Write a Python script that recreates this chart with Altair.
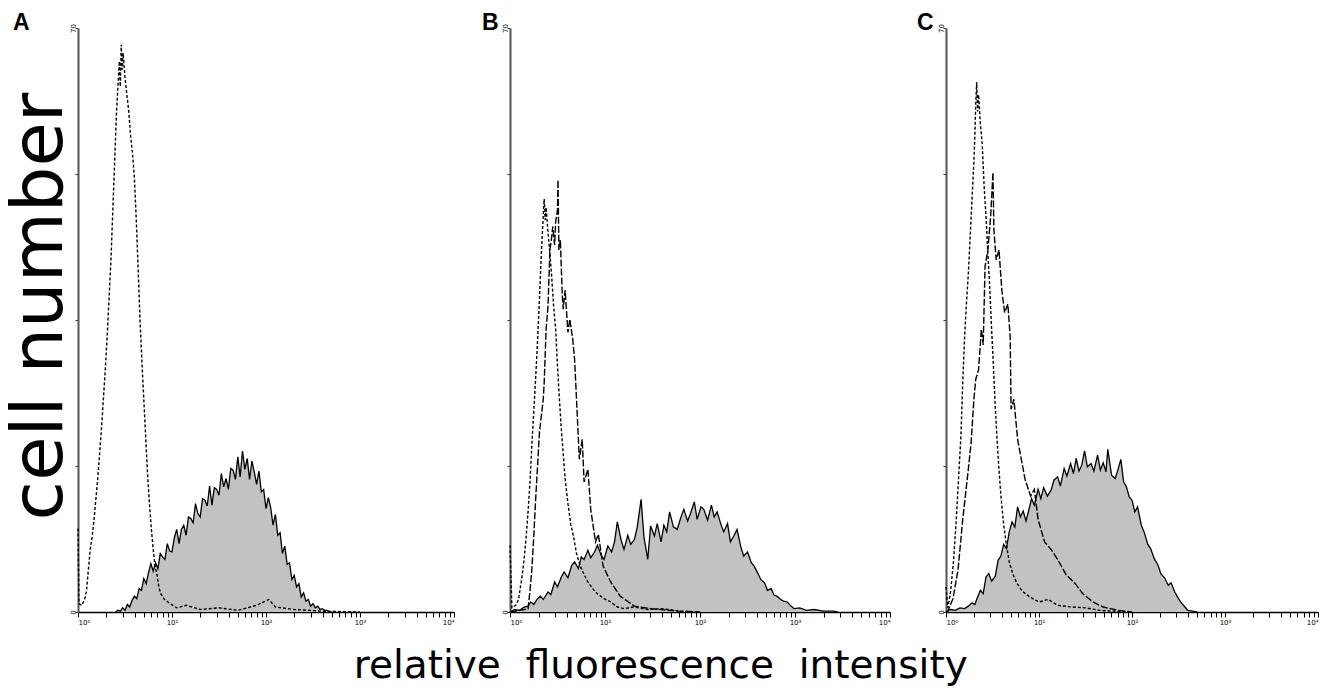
import altair as alt
import pandas as pd

# ---------------- data (x = log10 of fluorescence channel, y = cell count) ----------------
# Panel A : isotype control (dashed) and stained cells (filled)
A_iso_x = [0.00, 0.01, 0.04, 0.07, 0.09, 0.11, 0.13, 0.15, 0.17, 0.19, 0.21, 0.23, 0.25, 0.27, 0.29,
           0.31, 0.33, 0.35, 0.37, 0.39, 0.41, 0.43, 0.44, 0.45, 0.46, 0.47, 0.48, 0.50, 0.52, 0.54,
           0.56, 0.58, 0.60, 0.62, 0.64, 0.66, 0.68, 0.70, 0.72, 0.74, 0.76, 0.78, 0.80, 0.82, 0.84,
           0.86, 0.88, 0.92, 0.98, 1.05, 1.15, 1.30, 1.50, 1.70, 1.90, 2.03, 2.10, 2.30, 2.60, 3.00]
A_iso_y = [10.0, 1.0, 0.8, 1.5, 2.5, 5.0, 7.5, 9.0, 11.0, 13.5, 16.0, 19.0, 22.0, 25.5, 29.0,
           33.0, 37.5, 42.0, 48.0, 54.0, 60.0, 64.0, 66.0, 63.0, 68.0, 65.0, 67.0, 64.0, 62.0, 60.0,
           57.0, 55.0, 52.0, 47.0, 41.0, 35.0, 30.0, 25.5, 21.0, 16.5, 13.0, 10.0, 7.5, 5.5, 4.5,
           3.0, 2.2, 1.5, 1.0, 0.5, 0.8, 0.3, 0.5, 0.2, 0.8, 1.5, 0.6, 0.3, 0.1, 0.0]

A_fill_x = [0.400, 0.425, 0.450, 0.475, 0.500, 0.525, 0.550, 0.575, 0.600, 0.625, 0.650, 0.675,
            0.700, 0.725, 0.750, 0.775, 0.800, 0.825, 0.850, 0.875, 0.900, 0.925, 0.950, 0.975,
            1.000, 1.025, 1.050, 1.075, 1.100, 1.125, 1.150, 1.175, 1.200, 1.225, 1.250, 1.275,
            1.300, 1.325, 1.350, 1.375, 1.400, 1.425, 1.450, 1.475, 1.500, 1.525, 1.550, 1.575,
            1.600, 1.625, 1.650, 1.675, 1.700, 1.725, 1.750, 1.775, 1.800, 1.825, 1.850, 1.875,
            1.900, 1.925, 1.950, 1.975, 2.000, 2.025, 2.050, 2.075, 2.100, 2.125, 2.150, 2.175,
            2.200, 2.225, 2.250, 2.275, 2.300, 2.325, 2.350, 2.375, 2.400, 2.425, 2.450, 2.475,
            2.500, 2.525, 2.550, 2.575, 2.600, 2.625, 2.650, 2.675, 2.700]
A_fill_y = [0.0, 0.2, 0.1, 0.5, 0.2, 0.9, 0.6, 1.4, 1.9, 1.6, 2.8, 2.6,
            4.0, 3.4, 4.7, 5.8, 4.9, 5.9, 5.2, 7.0, 6.6, 6.3, 8.2, 7.3,
            7.2, 8.9, 9.9, 8.2, 9.9, 10.4, 9.2, 11.4, 11.2, 10.7, 13.0, 11.8,
            11.4, 13.6, 13.4, 12.7, 15.1, 12.8, 14.9, 14.7, 14.0, 16.6, 15.0, 16.0,
            14.7, 17.2, 17.0, 15.9, 18.6, 16.2, 19.3, 17.1, 18.4, 15.9, 18.1, 16.8,
            15.3, 16.9, 14.4, 14.7, 12.4, 13.7, 12.5, 10.4, 11.7, 9.2, 9.5, 7.0,
            7.9, 5.7, 5.9, 3.9, 4.4, 3.0, 3.4, 1.8, 2.3, 1.3, 1.5, 0.7,
            1.0, 0.5, 0.7, 0.3, 0.4, 0.2, 0.2, 0.0, 0.0]

# Panel B : isotype (short dash), second sample (long dash), stained (filled)
B_iso_x = [0.00, 0.02, 0.06, 0.09, 0.11, 0.13, 0.15, 0.17, 0.19, 0.21, 0.23, 0.25, 0.27, 0.29, 0.31,
           0.33, 0.35, 0.36, 0.37, 0.38, 0.40, 0.42, 0.44, 0.46, 0.48, 0.50, 0.52, 0.54, 0.56, 0.58,
           0.61, 0.64, 0.67, 0.70, 0.74, 0.78, 0.82, 0.87, 0.92, 0.99, 1.06, 1.13, 1.20, 1.30, 1.45,
           1.60, 1.80, 2.00]
B_iso_y = [8.0, 0.5, 0.8, 1.5, 3.0, 4.5, 6.5, 9.0, 12.0, 15.5, 20.0, 24.0, 28.0, 32.5, 37.5,
           43.0, 47.5, 49.5, 47.0, 48.5, 45.5, 43.0, 40.0, 36.5, 34.0, 29.5, 25.5, 22.0, 19.0, 16.0,
           13.0, 10.5, 9.0, 7.0, 5.5, 4.5, 3.6, 2.8, 2.2, 1.6, 1.2, 0.6, 0.4, 0.6, 0.3,
           0.4, 0.1, 0.0]

B_dash_x = [0.00, 0.10, 0.15, 0.19, 0.21, 0.23, 0.25, 0.27, 0.29, 0.31, 0.33, 0.35, 0.36, 0.38, 0.40,
            0.42, 0.44, 0.45, 0.47, 0.48, 0.50, 0.505, 0.515, 0.53, 0.55, 0.56, 0.58, 0.61, 0.63, 0.66,
            0.68, 0.70, 0.73, 0.76, 0.78, 0.82, 0.85, 0.90, 0.93, 0.98, 1.06, 1.16, 1.31, 1.48, 1.76,
            2.00]
B_dash_y = [0.0, 0.2, 0.3, 0.4, 2.5, 5.1, 9.0, 13.5, 17.5, 21.5, 23.5, 25.5, 27.5, 33.9, 36.6,
            43.4, 45.0, 46.2, 44.0, 46.7, 48.2, 51.8, 43.4, 44.6, 38.0, 36.3, 38.6, 33.5, 35.1, 32.7,
            30.3, 25.5, 18.3, 20.7, 15.6, 17.1, 12.3, 8.4, 9.3, 5.5, 3.6, 1.9, 0.7, 0.4, 0.1,
            0.0]

B_fill_x = [0.00, 0.05, 0.10, 0.15, 0.19, 0.22, 0.25, 0.29, 0.32, 0.35, 0.40, 0.43, 0.47, 0.50, 0.54,
            0.57, 0.61, 0.65, 0.68, 0.72, 0.75, 0.78, 0.82, 0.85, 0.89, 0.92, 0.96, 0.99, 1.03, 1.07,
            1.10, 1.13, 1.17, 1.20, 1.24, 1.27, 1.31, 1.34, 1.38, 1.41, 1.45, 1.48, 1.52, 1.55, 1.59,
            1.62, 1.65, 1.68, 1.72, 1.76, 1.80, 1.83, 1.87, 1.90, 1.94, 1.97, 2.01, 2.04, 2.08, 2.12,
            2.15, 2.18, 2.22, 2.25, 2.29, 2.32, 2.36, 2.39, 2.43, 2.46, 2.50, 2.54, 2.57, 2.61, 2.64,
            2.68, 2.71, 2.75, 2.78, 2.81, 2.85, 2.88, 2.92, 2.95, 2.99, 3.05, 3.12, 3.20, 3.30, 3.40,
            3.45]
B_fill_y = [0.0, 0.3, 0.2, 0.6, 0.7, 1.2, 0.9, 1.6, 1.9, 1.5, 2.4, 2.1, 3.6, 3.0, 4.2,
            4.8, 4.1, 5.6, 6.0, 5.2, 6.6, 6.3, 7.4, 6.5, 7.2, 8.0, 6.8, 6.3, 7.9, 7.2,
            8.4, 10.8, 8.6, 7.5, 9.2, 8.1, 8.7, 10.2, 13.5, 9.0, 6.3, 10.3, 9.1, 10.6, 8.4,
            10.4, 9.6, 12.0, 10.2, 9.9, 11.4, 12.3, 10.9, 11.8, 13.2, 11.1, 12.6, 12.3, 11.0, 12.8,
            11.4, 12.0, 10.5, 9.6, 10.6, 8.4, 9.2, 9.9, 7.8, 6.7, 7.2, 5.9, 5.5, 4.6, 3.9,
            3.5, 2.6, 2.8, 2.0, 1.9, 1.5, 1.3, 1.2, 0.8, 0.4, 0.5, 0.2, 0.3, 0.1, 0.1,
            0.0]

# Panel C : isotype (short dash), second sample (long dash), stained (filled)
C_iso_x = [0.00, 0.02, 0.05, 0.08, 0.11, 0.14, 0.16, 0.18, 0.20, 0.22, 0.24, 0.26, 0.28, 0.30, 0.31,
           0.32, 0.33, 0.34, 0.35, 0.37, 0.39, 0.41, 0.43, 0.45, 0.47, 0.49, 0.51, 0.53, 0.55, 0.57,
           0.59, 0.62, 0.65, 0.68, 0.72, 0.76, 0.82, 0.90, 1.00, 1.10, 1.20, 1.35, 1.50, 1.65, 1.80,
           2.00]
C_iso_y = [3.0, 0.5, 2.5, 6.0, 11.0, 17.0, 21.0, 27.5, 33.0, 37.0, 40.5, 45.0, 49.5, 54.0, 57.0,
           61.0, 63.5, 60.0, 62.0, 58.5, 56.0, 51.0, 47.5, 43.0, 39.0, 34.0, 29.5, 24.5, 20.5, 17.0,
           14.0, 10.5, 8.0, 6.0, 4.5, 3.5, 2.5, 1.8, 1.2, 1.5, 0.8, 0.6, 0.5, 0.2, 0.1,
           0.0]

C_dash_x = [0.00, 0.02, 0.075, 0.13, 0.18, 0.24, 0.27, 0.30, 0.32, 0.35, 0.38, 0.40, 0.42, 0.45, 0.48,
            0.505, 0.515, 0.54, 0.57, 0.60, 0.63, 0.665, 0.69, 0.70, 0.73, 0.77, 0.81, 0.85, 0.91, 0.95,
            0.99, 1.06, 1.13, 1.20, 1.29, 1.39, 1.47, 1.58, 1.69, 1.85, 2.00]
C_dash_y = [0.0, 0.1, 1.6, 5.1, 11.1, 17.1, 20.3, 25.5, 27.9, 29.0, 33.9, 32.0, 41.4, 43.4, 47.4,
            52.7, 45.8, 42.2, 43.4, 38.6, 35.9, 36.9, 33.0, 24.3, 25.5, 20.7, 18.3, 15.9, 13.9, 14.7,
            11.1, 8.4, 7.5, 6.3, 4.5, 3.4, 2.2, 1.2, 0.6, 0.2, 0.0]

C_fill_x = [0.00, 0.05, 0.10, 0.15, 0.20, 0.24, 0.28, 0.31, 0.34, 0.37, 0.40, 0.43, 0.46, 0.49, 0.53,
            0.56, 0.59, 0.62, 0.65, 0.68, 0.71, 0.74, 0.77, 0.80, 0.83, 0.86, 0.89, 0.92, 0.95, 0.99,
            1.02, 1.05, 1.09, 1.13, 1.16, 1.20, 1.23, 1.27, 1.30, 1.34, 1.37, 1.40, 1.43, 1.46, 1.49,
            1.52, 1.56, 1.59, 1.63, 1.66, 1.69, 1.72, 1.74, 1.78, 1.82, 1.85, 1.88, 1.91, 1.94, 1.97,
            2.00, 2.03, 2.06, 2.10, 2.13, 2.17, 2.20, 2.24, 2.28, 2.31, 2.35, 2.39, 2.42, 2.46, 2.50,
            2.53, 2.57, 2.60, 2.65, 2.70]
C_fill_y = [0.0, 0.3, 0.2, 0.5, 0.4, 0.7, 1.1, 0.9, 1.8, 2.6, 2.2, 4.2, 4.6, 3.7, 4.3,
            6.2, 6.7, 8.1, 7.6, 9.6, 10.8, 10.2, 12.6, 11.4, 12.1, 10.9, 12.2, 13.6, 12.8, 14.7,
            13.6, 14.9, 13.9, 14.6, 15.8, 16.2, 15.1, 17.2, 16.3, 17.8, 16.6, 18.4, 16.9, 17.6, 19.3,
            17.4, 17.8, 16.9, 18.8, 17.0, 17.9, 16.8, 19.5, 16.4, 16.0, 17.1, 18.3, 15.6, 15.0, 13.8,
            13.4, 12.0, 12.6, 10.4, 9.6, 8.1, 7.6, 6.4, 5.6, 4.6, 4.1, 3.2, 3.5, 2.4, 1.6,
            1.1, 0.6, 0.2, 0.1, 0.0]

# axis ticks / labels
x_tick_values = [1, 2, 3, 4, 5, 6, 7, 8, 9,
                 10, 20, 30, 40, 50, 60, 70, 80, 90,
                 100, 200, 300, 400, 500, 600, 700, 800, 900,
                 1000, 2000, 3000, 4000, 5000, 6000, 7000, 8000, 9000, 10000]
x_major_labels = {1: "10⁰", 10: "10¹", 100: "10²", 1000: "10³", 10000: "10⁴"}
y_max = 70
y_tick_values = [0, 17.5, 35, 52.5, 70]
panel_letters = ["A", "B", "C"]
x_title = "relative\u00a0\u00a0fluorescence\u00a0\u00a0intensity"
y_title = "cell number"


def frame(xs, ys):
    return pd.DataFrame({"x": [10 ** v for v in xs], "count": ys})


label_expr = " : ".join(
    [f"datum.value == {k} ? '{v}'" for k, v in x_major_labels.items()]) + " : ''"
y_label_expr = f"datum.value == 0 ? '0' : datum.value == {y_max} ? '{y_max}' : ''"

H = 584


def encodings(show_title):
    xaxis = alt.Axis(values=x_tick_values, labelExpr=label_expr, title=None, grid=False,
                     tickSize=5, tickColor="black", tickWidth=1, domainColor="black",
                     domainWidth=1.6, labelFontSize=7, labelPadding=1, labelColor="black",
                     labelFont="DejaVu Sans", labelFlush=True)
    yargs = dict(values=y_tick_values, labelExpr=y_label_expr, grid=False, tickSize=3,
                 tickColor="#333", domainColor="#555", domainWidth=2, labelFontSize=7,
                 labelAngle=270, labelPadding=2, labelColor="black", labelFont="DejaVu Sans",
                 labelBaseline="middle")
    if show_title:
        yaxis = alt.Axis(title=y_title, titleFontSize=72, titleFont="DejaVu Sans",
                         titleFontWeight="normal", titleColor="black", titleAngle=270,
                         titleBaseline="alphabetic", titleX=-17, titleY=278, **yargs)
    else:
        yaxis = alt.Axis(title=None, **yargs)
    x = alt.X("x:Q", scale=alt.Scale(type="log", domain=[1, 10000]), axis=xaxis)
    y = alt.Y("count:Q", scale=alt.Scale(domain=[0, y_max]), axis=yaxis)
    return x, y


def panel(letter, fill, lines, show_title, dx, width):
    x, y = encodings(show_title)
    fdf = frame(*fill)
    layers = [
        alt.Chart(fdf).mark_area(color="#c2c2c2", interpolate="linear").encode(x=x, y=y),
        alt.Chart(fdf).mark_line(color="black", strokeWidth=1.3, interpolate="linear").encode(x=x, y=y),
    ]
    for (xs, ys, dash) in lines:
        layers.append(
            alt.Chart(frame(xs, ys)).mark_line(color="black", strokeWidth=1.4,
                                               strokeDash=dash, interpolate="linear").encode(x=x, y=y))
    return alt.layer(*layers).properties(
        width=width, height=H,
        title=alt.TitleParams(letter, anchor="start", frame="group", dx=dx, dy=29,
                              fontSize=23, font="Liberation Sans", fontWeight="bold",
                              color="black", baseline="alphabetic", offset=0))


pA = panel(panel_letters[0], (A_fill_x, A_fill_y), [(A_iso_x, A_iso_y, [3, 2])], True, -65, 376)
pB = panel(panel_letters[1], (B_fill_x, B_fill_y),
           [(B_iso_x, B_iso_y, [3, 2]), (B_dash_x, B_dash_y, [7, 2])], False, -28, 380)
pC = panel(panel_letters[2], (C_fill_x, C_fill_y),
           [(C_iso_x, C_iso_y, [3, 2]), (C_dash_x, C_dash_y, [7, 2])], False, -29, 372)

chart = alt.hconcat(pA, pB, pC, spacing=56, bounds="flush").properties(
    title=alt.TitleParams(x_title, orient="bottom", anchor="middle", fontSize=39,
                          font="DejaVu Sans", fontWeight="normal", color="black", offset=22),
    padding={"left": 2, "top": 11, "right": 0, "bottom": 0},
    background="white",
).configure_view(stroke=None)

chart.save("out.html", embed_options={"renderer": "svg", "actions": False})
